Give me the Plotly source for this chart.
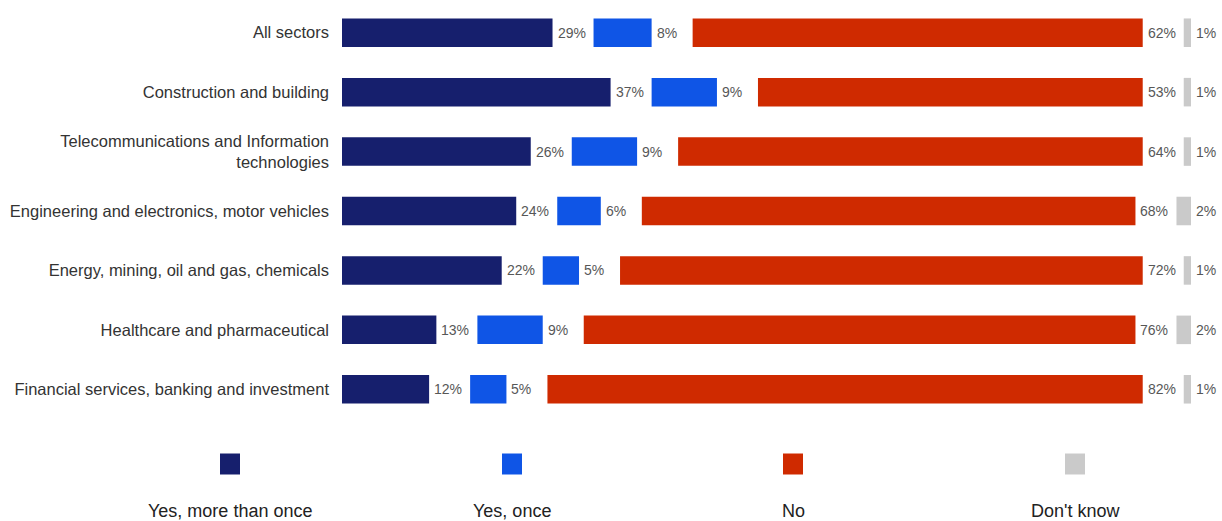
import plotly.graph_objects as go

categories = [
    "All sectors",
    "Construction and building",
    "Telecommunications and Information<br>technologies",
    "Engineering and electronics, motor vehicles",
    "Energy, mining, oil and gas, chemicals",
    "Healthcare and pharmaceutical",
    "Financial services, banking and investment",
]
series_names = ["Yes, more than once", "Yes, once", "No", "Don't know"]
yes_more = [29, 37, 26, 24, 22, 13, 12]
yes_once = [8, 9, 9, 6, 5, 9, 5]
no = [62, 53, 64, 68, 72, 76, 82]
dont_know = [1, 1, 1, 2, 1, 2, 1]

series_values = [yes_more, yes_once, no, dont_know]
colors = ["#161f6d", "#0f55e6", "#cf2a00", "#cacaca"]

GAP = 5.65  # spacing between segments, in axis units
FONT = "Liberation Sans, Arial, sans-serif"

# plot geometry (pixels)
W, H = 1222, 521
ML, MR, MT, MB = 342, 31, 3, 102
PW = W - ML - MR
PH = H - MT - MB

fig = go.Figure()
annotations = []
cum = [0.0] * len(categories)
for k, (name, vals, col) in enumerate(zip(series_names, series_values, colors)):
    base = [c for c in cum]
    fig.add_trace(go.Bar(
        y=categories, x=vals, base=base, orientation="h",
        marker=dict(color=col, line=dict(width=0)), width=0.48,
        name=name, showlegend=False, hoverinfo="skip",
    ))
    ends = [b + v for b, v in zip(base, vals)]
    for cat, e, v in zip(categories, ends, vals):
        annotations.append(dict(
            x=e, y=cat, xref="x", yref="y", text=f"{v}%", showarrow=False,
            xanchor="left", yanchor="middle", xshift=3,
            font=dict(family=FONT, size=14, color="#575757"),
        ))
    cum = [e + GAP for e in ends]

total_range = 100 + 3 * GAP

# custom legend: squares with labels underneath
legend_px = [230, 512, 793, 1075]
shapes = []
for px, name, col in zip(legend_px, series_names, colors):
    cx = (px - ML) / PW
    cy = (H - MB - 464) / PH
    hw = 10 / PW
    hh = 10.5 / PH
    shapes.append(dict(type="rect", xref="paper", yref="paper",
                       x0=cx - hw, x1=cx + hw, y0=cy - hh, y1=cy + hh,
                       fillcolor=col, line=dict(width=0)))
    annotations.append(dict(xref="paper", yref="paper", x=cx,
                            y=(H - MB - 511) / PH, text=name, showarrow=False,
                            xanchor="center", yanchor="middle",
                            font=dict(family=FONT, size=18, color="#222222")))

fig.update_layout(
    width=W, height=H,
    margin=dict(l=ML, r=MR, t=MT, b=MB),
    paper_bgcolor="white", plot_bgcolor="white",
    barmode="overlay",
    xaxis=dict(range=[0, total_range], visible=False, fixedrange=True),
    yaxis=dict(categoryorder="array", categoryarray=categories,
               autorange="reversed", showgrid=False, zeroline=False,
               showline=False, ticks="", ticklabelstandoff=12,
               tickfont=dict(family=FONT, size=16.5, color="#333333")),
    shapes=shapes, annotations=annotations,
    font=dict(family=FONT),
)

fig.write_html("out.html")
